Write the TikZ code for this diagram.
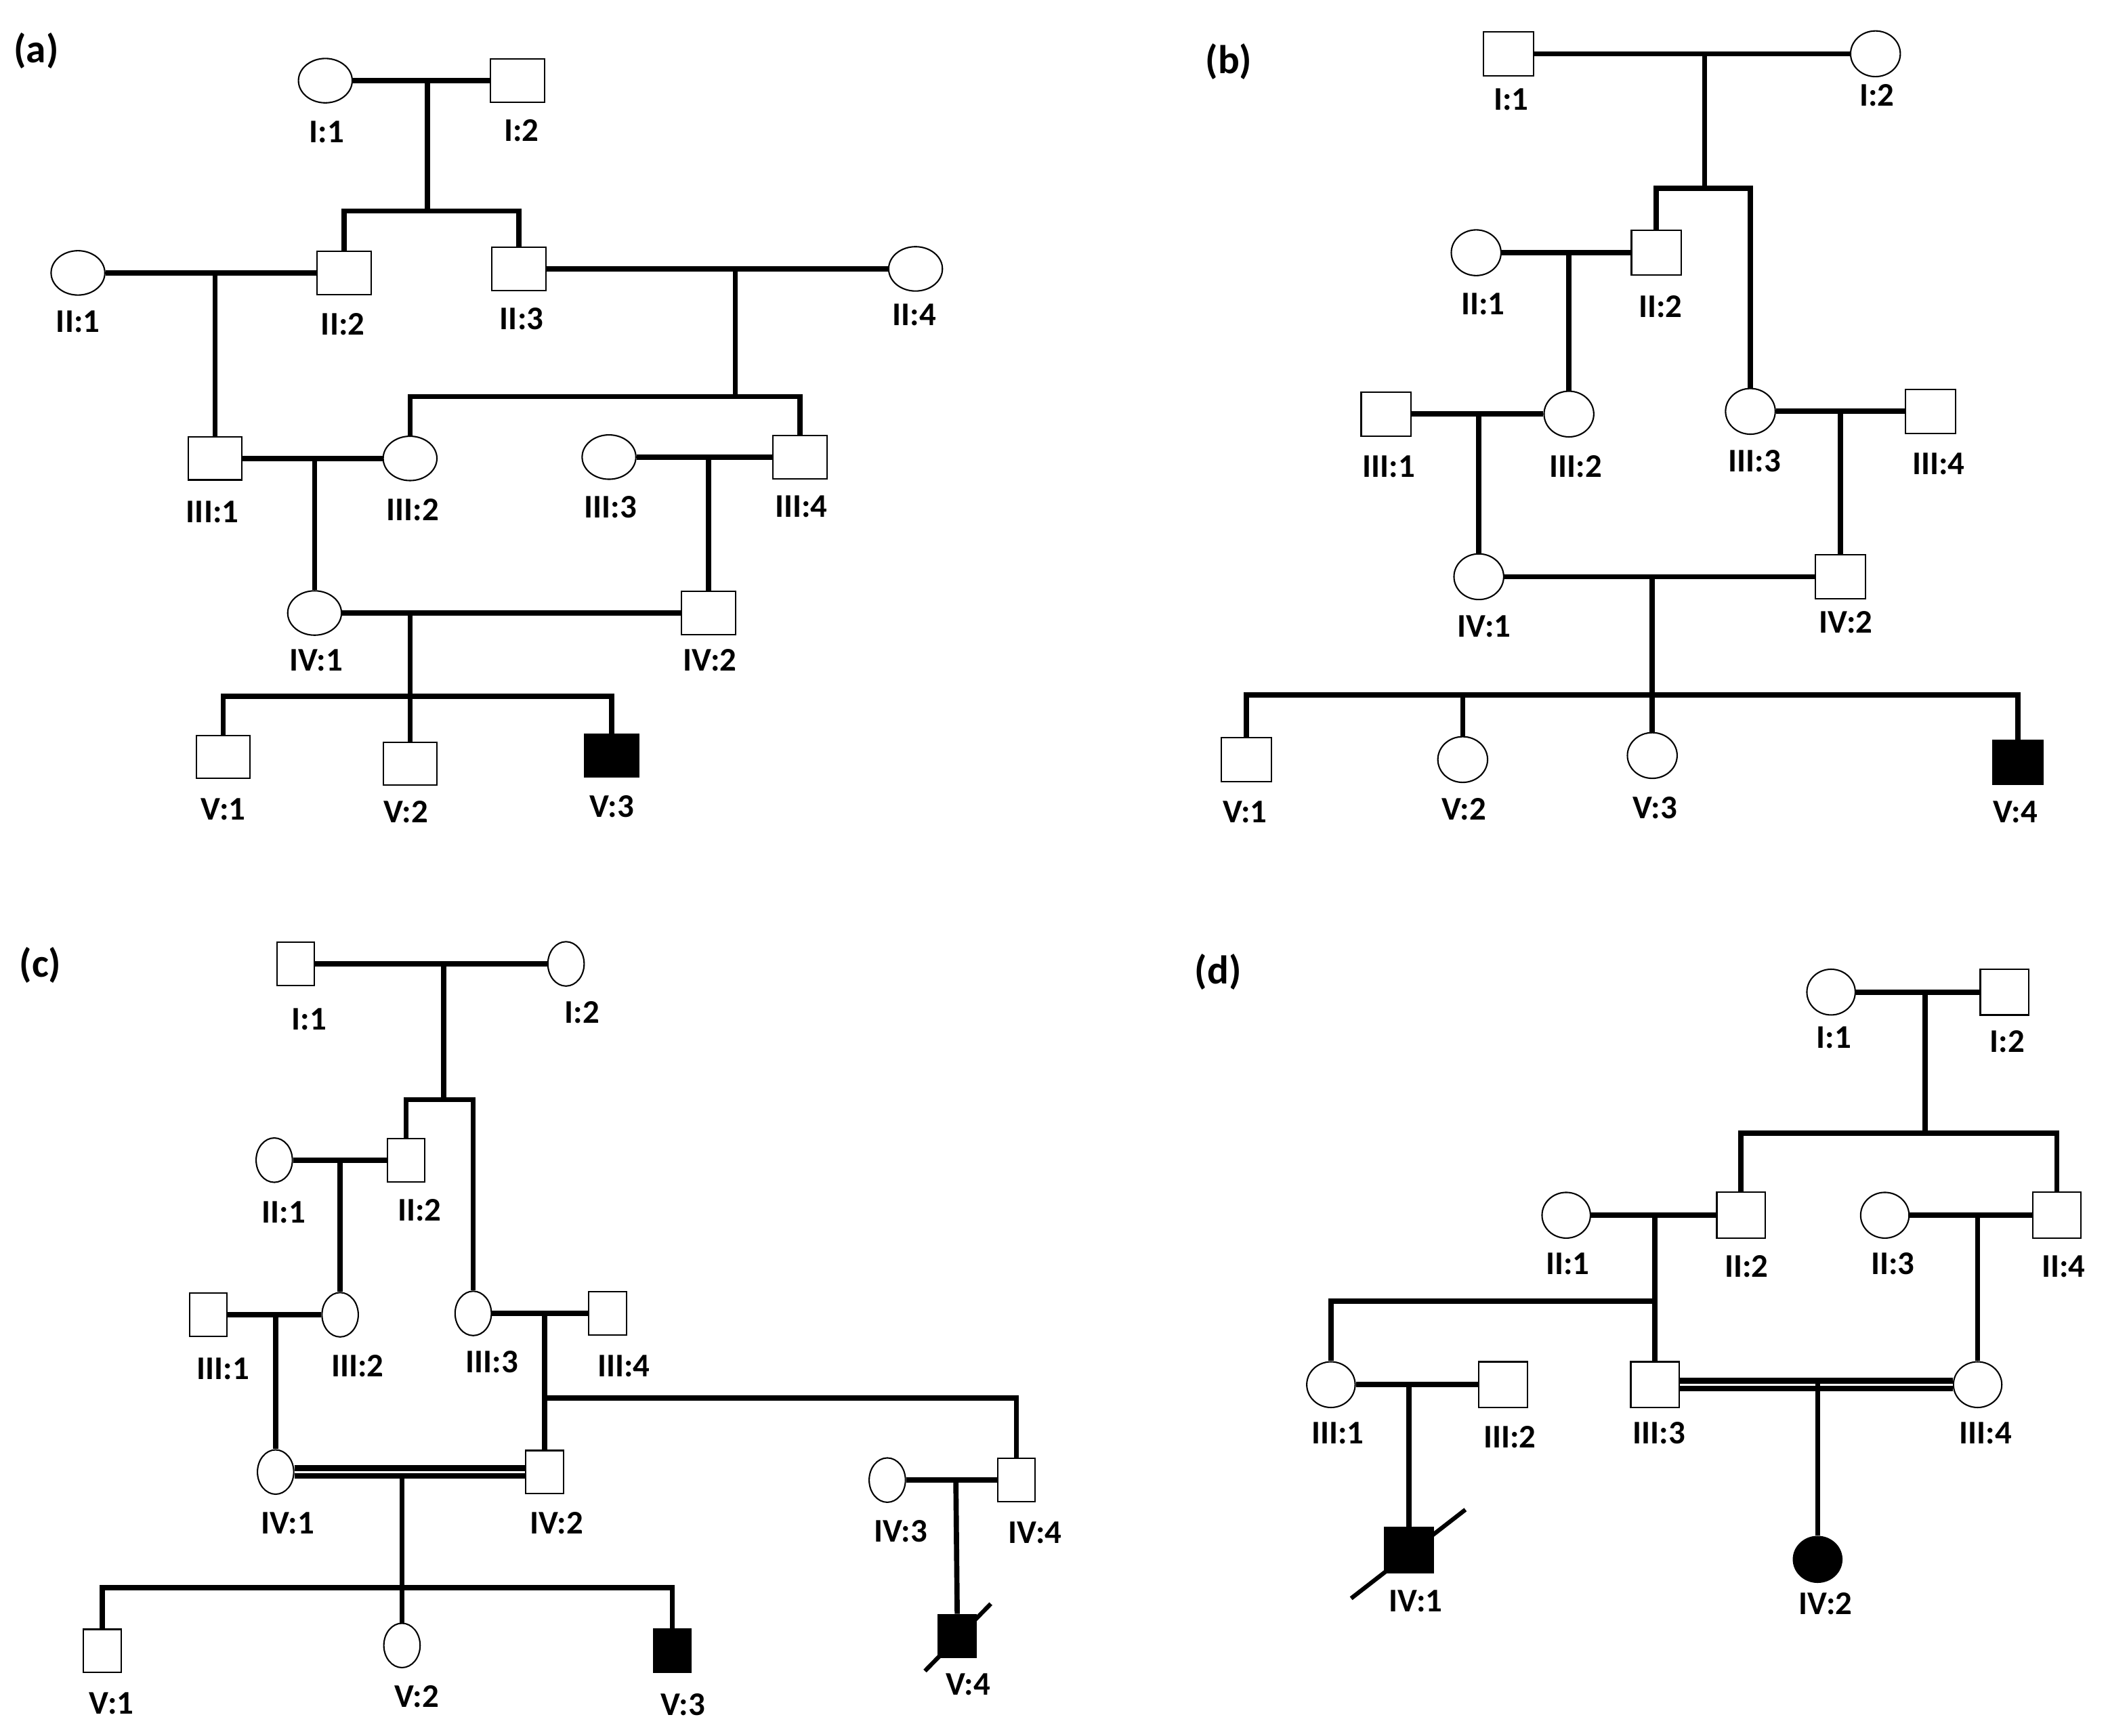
\documentclass[tikz,border=0pt]{standalone}
\usepackage{fontspec}
\setmainfont{Carlito}
\usetikzlibrary{shapes.geometric}
\newcommand\pedlab{\fontsize{14}{16}\selectfont\bfseries}
\newcommand\panlab{\fontsize{17}{20}\selectfont\bfseries}
\tikzset{
  ind/.style={draw, line width=0.6pt, inner sep=0pt, fill=white},
  sq/.style={ind, rectangle},
  ci/.style={ind, ellipse},
  aff/.style={fill=black},
  lab/.style={font=\pedlab, inner sep=0pt},
  pan/.style={font=\panlab, inner sep=0pt},
  rel/.style={line width=2.2pt},
  cons/.style={line width=2.4pt, double, double distance=1pt},
  slash/.style={line width=1.8pt},
}
\begin{document}
\begin{tikzpicture}[x=0.02cm, y=-0.02cm]
\useasboundingbox (0,0) rectangle (1568,1291);

% ================= (a) =================
\begin{scope}[sq/.append style={minimum width=0.8cm, minimum height=0.64cm},
              ci/.append style={minimum width=0.8cm, minimum height=0.66cm}]
\node[pan] (pa) at (27,38) {(a)};
\node[ci] (aI1) at (242,60) {};
\node[sq] (aI2) at (385,60) {};
\node[ci] (aII1) at (58,203) {};
\node[sq] (aII2) at (256,203) {};
\node[sq] (aII3) at (386,200) {};
\node[ci] (aII4) at (681,200) {};
\node[sq] (aIII1) at (160,341) {};
\node[ci] (aIII2) at (305,341) {};
\node[ci] (aIII3) at (453,340) {};
\node[sq] (aIII4) at (595,340) {};
\node[ci] (aIV1) at (234,456) {};
\node[sq] (aIV2) at (527,456) {};
\node[sq] (aV1) at (166,563) {};
\node[sq] (aV2) at (305,568) {};
\node[sq,aff] (aV3) at (455,562) {};
\coordinate (am1) at (318,60);
\coordinate (as1) at (318,157);
\coordinate (am2) at (160,203);
\coordinate (am3) at (547,200);
\coordinate (as2) at (547,295);
\coordinate (am4) at (234,341);
\coordinate (am5) at (527,340);
\coordinate (am6) at (305,456);
\coordinate (as3) at (305,518);
\draw[rel] (aI1) -- (aI2);
\draw[rel] (am1) -- (as1);
\draw[rel] (aII2.north) |- (as1) -| (aII3.north);
\draw[rel] (aII1) -- (aII2);
\draw[rel] (am2) -- (aIII1.north);
\draw[rel] (aII3) -- (aII4);
\draw[rel] (am3) -- (as2);
\draw[rel] (aIII2.north) |- (as2) -| (aIII4.north);
\draw[rel] (aIII1) -- (aIII2);
\draw[rel] (am4) -- (aIV1.north);
\draw[rel] (aIII3) -- (aIII4);
\draw[rel] (am5) -- (aIV2.north);
\draw[rel] (aIV1) -- (aIV2);
\draw[rel] (am6) -- (aV2.north);
\draw[rel] (aV1.north) |- (as3) -| (aV3.north);
\node[lab] (laI1) at (243,98) {I:1};
\node[lab] (laI2) at (388,97) {I:2};
\node[lab] (laII1) at (58,239) {II:1};
\node[lab] (laII2) at (255,241) {II:2};
\node[lab] (laII3) at (388,237) {II:3};
\node[lab] (laII4) at (680,234) {II:4};
\node[lab] (laIII1) at (158,381) {III:1};
\node[lab] (laIII2) at (307,379) {III:2};
\node[lab] (laIII3) at (454,377) {III:3};
\node[lab] (laIII4) at (596,377) {III:4};
\node[lab] (laIV1) at (235,491) {IV:1};
\node[lab] (laIV2) at (528,491) {IV:2};
\node[lab] (laV1) at (166,602) {V:1};
\node[lab] (laV2) at (302,604) {V:2};
\node[lab] (laV3) at (455,600) {V:3};
\end{scope}

% ================= (b) =================
\begin{scope}[sq/.append style={minimum width=0.74cm, minimum height=0.66cm},
              ci/.append style={minimum width=0.74cm, minimum height=0.68cm}]
\node[pan] (pb) at (914,46) {(b)};
\node[sq] (bI1) at (1122,40) {};
\node[ci] (bI2) at (1395,40) {};
\node[ci] (bII1) at (1098,188) {};
\node[sq] (bII2) at (1232,188) {};
\node[sq] (bIII1) at (1031,308) {};
\node[ci] (bIII2) at (1167,308) {};
\node[ci] (bIII3) at (1302,306) {};
\node[sq] (bIII4) at (1436,306) {};
\node[ci] (bIV1) at (1100,429) {};
\node[sq] (bIV2) at (1369,429) {};
\node[sq] (bV1) at (927,565) {};
\node[ci] (bV2) at (1088,565) {};
\node[ci] (bV3) at (1229,562) {};
\node[sq,aff] (bV4) at (1501,567) {};
\coordinate (bm1) at (1268,40);
\coordinate (bs1) at (1268,140);
\coordinate (bm2) at (1167,188);
\coordinate (bm3) at (1100,308);
\coordinate (bm4) at (1369,306);
\coordinate (bm5) at (1229,429);
\coordinate (bs2) at (1229,517);
\draw[rel] (bI1) -- (bI2);
\draw[rel] (bm1) -- (bs1);
\draw[rel] (bII2.north) |- (bs1) -| (bIII3.north);
\draw[rel] (bII1) -- (bII2);
\draw[rel] (bm2) -- (bIII2.north);
\draw[rel] (bIII1) -- (bIII2);
\draw[rel] (bm3) -- (bIV1.north);
\draw[rel] (bIII3) -- (bIII4);
\draw[rel] (bm4) -- (bIV2.north);
\draw[rel] (bIV1) -- (bIV2);
\draw[rel] (bm5) -- (bV3.north);
\draw[rel] (bV1.north) |- (bs2) -| (bV4.north);
\draw[rel] (bV2 |- bs2) -- (bV2.north);
\node[lab] (lbI1) at (1124,74) {I:1};
\node[lab] (lbI2) at (1396,71) {I:2};
\node[lab] (lbII1) at (1103,226) {II:1};
\node[lab] (lbII2) at (1235,228) {II:2};
\node[lab] (lbIII1) at (1033,347) {III:1};
\node[lab] (lbIII2) at (1172,347) {III:2};
\node[lab] (lbIII3) at (1305,343) {III:3};
\node[lab] (lbIII4) at (1442,345) {III:4};
\node[lab] (lbIV1) at (1104,466) {IV:1};
\node[lab] (lbIV2) at (1373,463) {IV:2};
\node[lab] (lbV1) at (926,604) {V:1};
\node[lab] (lbV2) at (1089,602) {V:2};
\node[lab] (lbV3) at (1231,601) {V:3};
\node[lab] (lbV4) at (1499,604) {V:4};
\end{scope}

% ================= (c) =================
\begin{scope}[sq/.append style={minimum width=0.56cm, minimum height=0.64cm},
              ci/.append style={minimum width=0.54cm, minimum height=0.66cm}]
\node[pan] (pc) at (30,718) {(c)};
\node[sq] (cI1) at (220,717) {};
\node[ci] (cI2) at (421,717) {};
\node[ci] (cII1) at (204,863) {};
\node[sq] (cII2) at (302,863) {};
\node[sq] (cIII1) at (155,978) {};
\node[ci] (cIII2) at (253,978) {};
\node[ci] (cIII3) at (352,977) {};
\node[sq] (cIII4) at (452,977) {};
\node[ci] (cIV1) at (205,1095) {};
\node[sq] (cIV2) at (405,1095) {};
\node[ci] (cIV3) at (660,1101) {};
\node[sq] (cIV4) at (756,1101) {};
\node[sq] (cV1) at (76,1228) {};
\node[ci] (cV2) at (299,1224) {};
\node[sq,aff] (cV3) at (500,1228) {};
\node[sq,aff] (cV4) at (712,1217) {};
\coordinate (cm1) at (330,717);
\coordinate (cs1) at (330,818);
\coordinate (cm2) at (253,863);
\coordinate (cm3) at (205,978);
\coordinate (cm4) at (405,977);
\coordinate (cb) at (405,1040);
\coordinate (cm5) at (299,1095);
\coordinate (cs2) at (299,1181);
\coordinate (cm6) at (711,1101);
\draw[rel] (cI1) -- (cI2);
\draw[rel] (cm1) -- (cs1);
\draw[rel] (cII2.north) |- (cs1) -| (cIII3.north);
\draw[rel] (cII1) -- (cII2);
\draw[rel] (cm2) -- (cIII2.north);
\draw[rel] (cIII1) -- (cIII2);
\draw[rel] (cm3) -- (cIV1.north);
\draw[rel] (cIII3) -- (cIII4);
\draw[rel] (cm4) -- (cIV2.north);
\draw[rel] (cb) -| (cIV4.north);
\draw[rel] (cm5) -- (cV2.north);
\draw[cons] (cIV1) -- (cIV2);
\draw[rel] (cV1.north) |- (cs2) -| (cV3.north);
\draw[rel] (cIV3) -- (cIV4);
\draw[rel] (cm6) -- (cV4.north);
\draw[slash] ([shift={(-24,26)}]cV4.center) -- ([shift={(25,-24)}]cV4.center);
\node[lab] (lcI1) at (230,758) {I:1};
\node[lab] (lcI2) at (433,753) {I:2};
\node[lab] (lcII1) at (211,902) {II:1};
\node[lab] (lcII2) at (312,900) {II:2};
\node[lab] (lcIII1) at (166,1018) {III:1};
\node[lab] (lcIII2) at (266,1016) {III:2};
\node[lab] (lcIII3) at (366,1013) {III:3};
\node[lab] (lcIII4) at (464,1016) {III:4};
\node[lab] (lcIV1) at (214,1133) {IV:1};
\node[lab] (lcIV2) at (414,1133) {IV:2};
\node[lab] (lcIV3) at (670,1139) {IV:3};
\node[lab] (lcIV4) at (770,1140) {IV:4};
\node[lab] (lcV1) at (83,1267) {V:1};
\node[lab] (lcV2) at (310,1262) {V:2};
\node[lab] (lcV3) at (508,1268) {V:3};
\node[lab] (lcV4) at (720,1253) {V:4};
\end{scope}

% ================= (d) =================
\begin{scope}[sq/.append style={minimum width=0.72cm, minimum height=0.68cm},
              ci/.append style={minimum width=0.72cm, minimum height=0.68cm}]
\node[pan] (pd) at (906,723) {(d)};
\node[ci] (dI1) at (1362,738) {};
\node[sq] (dI2) at (1491,738) {};
\node[ci] (dII1) at (1165,904) {};
\node[sq] (dII2) at (1295,904) {};
\node[ci] (dII3) at (1402,904) {};
\node[sq] (dII4) at (1530,904) {};
\node[ci] (dIII1) at (990,1030) {};
\node[sq] (dIII2) at (1118,1030) {};
\node[sq] (dIII3) at (1231,1030) {};
\node[ci] (dIII4) at (1471,1030) {};
\node[sq,aff] (dIV1) at (1048,1153) {};
\node[ci,aff] (dIV2) at (1352,1160) {};
\coordinate (dm1) at (1432,738);
\coordinate (ds1) at (1432,843);
\coordinate (dm2) at (1231,904);
\coordinate (db) at (1231,968);
\coordinate (dm3) at (1471,904);
\coordinate (dm4) at (1048,1030);
\coordinate (dm5) at (1352,1025);
\draw[rel] (dI1) -- (dI2);
\draw[rel] (dm1) -- (ds1);
\draw[rel] (dII2.north) |- (ds1) -| (dII4.north);
\draw[rel] (dII1) -- (dII2);
\draw[rel] (dm2) -- (dIII3.north);
\draw[rel] (db) -| (dIII1.north);
\draw[rel] (dII3) -- (dII4);
\draw[rel] (dm3) -- (dIII4.north);
\draw[rel] (dIII1) -- (dIII2);
\draw[rel] (dm4) -- (dIV1.north);
\draw[cons] (dIII3) -- (dIII4);
\draw[rel] (dm5) -- (dIV2.north);
\draw[slash] ([shift={(-43,36)}]dIV1.center) -- ([shift={(42,-30)}]dIV1.center);
\node[lab] (ldI1) at (1364,772) {I:1};
\node[lab] (ldI2) at (1493,775) {I:2};
\node[lab] (ldII1) at (1166,940) {II:1};
\node[lab] (ldII2) at (1299,942) {II:2};
\node[lab] (ldII3) at (1408,940) {II:3};
\node[lab] (ldII4) at (1535,942) {II:4};
\node[lab] (ldIII1) at (995,1066) {III:1};
\node[lab] (ldIII2) at (1123,1069) {III:2};
\node[lab] (ldIII3) at (1234,1066) {III:3};
\node[lab] (ldIII4) at (1477,1066) {III:4};
\node[lab] (ldIV1) at (1053,1191) {IV:1};
\node[lab] (ldIV2) at (1358,1193) {IV:2};
\end{scope}
\end{tikzpicture}
\end{document}
